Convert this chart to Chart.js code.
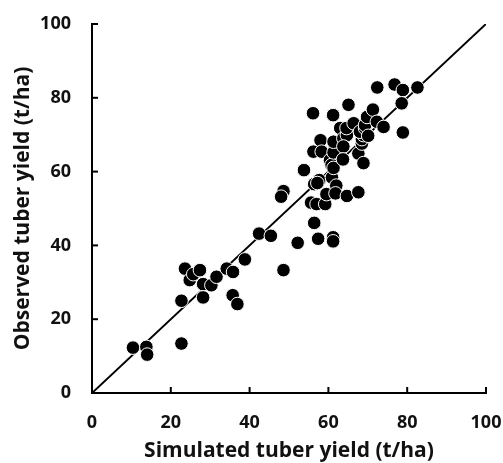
<!DOCTYPE html>
<html>
<head>
<meta charset="utf-8">
<script src="https://cdn.jsdelivr.net/npm/chart.js@4"></script>
<style>
  html, body { margin: 0; padding: 0; background: #fff; }
  #wrap { width: 503px; height: 463px; }
</style>
</head>
<body>
<div id="wrap"><canvas id="yieldChart" width="503" height="463"></canvas></div>
<script>
/* --- data (t/ha) --- */
const simulated = [
    10.4, 13.8, 14.0, 22.7, 22.7, 23.6, 24.8, 25.7, 27.4, 28.2,
    28.2, 30.3, 31.6, 34.2, 35.8, 35.7, 36.9, 38.8, 42.4, 45.4,
    48.6, 48.0, 48.6, 52.2, 53.8, 55.6, 56.2, 56.1, 56.4, 56.4,
    57.0, 57.4, 57.7, 57.2, 58.0, 58.3, 59.2, 59.5, 60.4, 60.8,
    60.9, 61.3, 61.3, 61.3, 61.2, 61.2, 61.2, 62.0, 61.8, 63.0,
    63.8, 64.7, 63.8, 63.7, 64.7, 65.1, 64.6, 66.4, 67.6, 67.6,
    68.9, 68.5, 68.5, 68.9, 68.0, 69.3, 69.3, 69.8, 70.1, 71.3,
    72.3, 72.4, 74.0, 76.8, 78.9, 78.6, 78.9, 82.6
];
const observed = [
    12.3, 12.5, 10.4, 13.4, 25.0, 33.7, 30.6, 32.2, 33.3, 29.5,
    25.9, 29.2, 31.5, 33.7, 32.8, 26.5, 24.1, 36.2, 43.2, 42.6,
    54.7, 53.2, 33.3, 40.7, 60.4, 51.6, 65.4, 75.8, 56.6, 46.1,
    51.2, 41.8, 57.7, 56.9, 68.5, 65.4, 51.2, 53.9, 63.1, 61.8,
    58.4, 61.0, 65.2, 68.1, 75.3, 42.2, 41.1, 56.2, 54.1, 71.8,
    69.0, 69.9, 66.8, 63.3, 53.4, 78.1, 71.8, 73.1, 64.9, 54.4,
    62.3, 67.6, 68.8, 69.9, 70.8, 71.8, 72.6, 74.8, 69.7, 76.8,
    73.5, 82.8, 72.1, 83.6, 82.1, 78.5, 70.6, 82.8
];
const oneToOne = [0, 100];
const axisMin = 0;
const axisMax = 100;
const axisStep = 20;

const FONT = "'Open Sans', 'DejaVu Sans', sans-serif";

/* --- inward tick marks, like the original figure --- */
const innerTicks = {
    id: "innerTicks",
    beforeDatasetsDraw(chart) {
        const { ctx, chartArea: a, scales: { x, y } } = chart;
        ctx.save();
        ctx.strokeStyle = "#000";
        ctx.lineWidth = 2;
        x.ticks.forEach(t => {
            const px = x.getPixelForValue(t.value);
            ctx.beginPath();
            ctx.moveTo(px, a.bottom);
            ctx.lineTo(px, a.bottom - 6);
            ctx.stroke();
        });
        y.ticks.forEach(t => {
            const py = y.getPixelForValue(t.value);
            ctx.beginPath();
            ctx.moveTo(a.left, py);
            ctx.lineTo(a.left + 6, py);
            ctx.stroke();
        });
        ctx.restore();
    }
};

const points = simulated.map((s, i) => ({ x: s, y: observed[i] }));

new Chart(document.getElementById("yieldChart"), {
    type: "scatter",
    data: {
        datasets: [
            {
                label: "Data",
                data: points,
                backgroundColor: "#000",
                borderColor: "#fff",
                borderWidth: 1,
                pointRadius: 6.8
            },
            {
                type: "line",
                label: "1:1",
                data: oneToOne.map(v => ({ x: v, y: v })),
                borderColor: "#000",
                borderWidth: 2,
                pointRadius: 0,
                fill: false
            }
        ]
    },
    options: {
        responsive: false,
        animation: false,
        layout: { padding: { top: 24, right: 17, bottom: 0, left: 0 } },
        plugins: { legend: { display: false }, tooltip: { enabled: false } },
        scales: {
            x: {
                type: "linear",
                min: axisMin,
                max: axisMax,
                grid: { display: false, drawTicks: false },
                border: { display: true, color: "#000", width: 2 },
                ticks: {
                    stepSize: axisStep,
                    padding: 19,
                    color: "#111",
                    font: { family: FONT, size: 18, weight: "bold" }
                },
                title: {
                    display: true,
                    text: "Simulated tuber yield (t/ha)",
                    color: "#111",
                    padding: { top: 0, bottom: -1 },
                    font: { family: FONT, size: 21, weight: "bold" }
                },
                afterFit(scale) {
                    scale.height = 70;
                    scale.paddingLeft = 0;
                    scale.paddingRight = 0;
                }
            },
            y: {
                type: "linear",
                min: axisMin,
                max: axisMax,
                grid: { display: false, drawTicks: false },
                border: { display: true, color: "#000", width: 2 },
                ticks: {
                    stepSize: axisStep,
                    padding: 21,
                    color: "#111",
                    font: { family: FONT, size: 18, weight: "bold" }
                },
                title: {
                    display: true,
                    text: "Observed tuber yield (t/ha)",
                    color: "#111",
                    padding: { top: 10, bottom: 0 },
                    font: { family: FONT, size: 21, weight: "bold" }
                },
                afterFit(scale) {
                    scale.width = 92;
                    scale.paddingTop = 0;
                    scale.paddingBottom = 0;
                }
            }
        }
    },
    plugins: [innerTicks]
});
</script>
</body>
</html>
